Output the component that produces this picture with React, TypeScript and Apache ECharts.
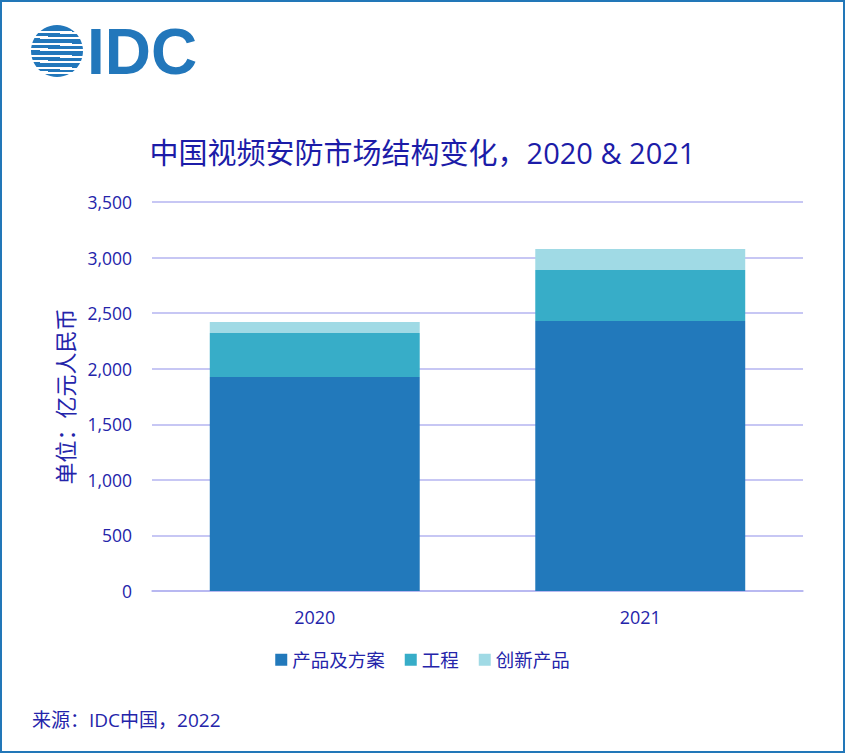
import React, { useEffect, useRef } from "react";
import * as echarts from "echarts";

const categories = ["2020", "2021"];
const seriesNames = ["产品及方案", "工程", "创新产品"];
const productValues = [1925, 2430];
const engineeringValues = [397, 459];
const innovationValues = [99, 189];
const seriesColors = ["#2279bb", "#37adc8", "#a0dae5"];
const titleText = "中国视频安防市场结构变化，2020 & 2021";
const yAxisName = "单位：亿元人民币";
const sourceText = "来源：IDC中国，2022";

const FONT = "'Open Sans', 'Noto Sans CJK SC', sans-serif";
const TXT = "#2424aa";
const LOGO = "#2277bb";

export default function App() {
  const ref = useRef<HTMLDivElement>(null);
  useEffect(() => {
    if (!ref.current) return;
    const chart = echarts.init(ref.current, null, { renderer: "svg" });
    const dataSets = [productValues, engineeringValues, innovationValues];
    const gaps = [31, 37, 43, 49, 55, 61, 67, 72];
    const logoGraphics: any[] = [
      { type: "circle", shape: { cx: 57, cy: 51, r: 26 }, style: { fill: LOGO } },
      ...gaps.map((y, i) => ({
        type: "rect",
        shape: { x: i % 2 === 0 ? 28 : 40, y, width: i % 2 === 0 ? 44 : 50, height: 2 },
        style: { fill: "#ffffff" },
      })),
      ...gaps.map((y, i) => ({
        type: "rect",
        shape: { x: i % 2 === 0 ? 60 : 28, y: y + (i % 2 === 0 ? 1 : -1), width: i % 2 === 0 ? 30 : 20, height: 2 },
        style: { fill: "#ffffff" },
      })),
      {
        type: "text",
        x: 87,
        y: 52,
        style: {
          text: "IDC",
          fill: LOGO,
          font: "bold 64px 'Liberation Sans', Arial, sans-serif",
          textVerticalAlign: "middle",
          textAlign: "left",
        },
      },
      {
        type: "rect",
        shape: { x: 1, y: 1, width: 843, height: 751 },
        style: { fill: "none", stroke: "#2277b8", lineWidth: 2 },
        silent: true,
      },
      {
        type: "text",
        x: 32,
        y: 720,
        style: {
          text: sourceText,
          fill: TXT,
          font: `19px ${FONT}`,
          textVerticalAlign: "middle",
        },
      },
    ];
    chart.setOption({
      animation: false,
      backgroundColor: "#ffffff",
      title: {
        text: titleText,
        left: "center",
        top: 133,
        textStyle: { color: "#1c1ca8", fontSize: 29, fontWeight: "normal", fontFamily: FONT },
      },
      legend: {
        data: seriesNames,
        bottom: 79,
        left: "center",
        itemWidth: 12,
        itemHeight: 12,
        itemGap: 20,
        icon: "rect",
        textStyle: { color: TXT, fontSize: 18.5, fontFamily: FONT },
      },
      grid: { left: 152, right: 42, top: 202, bottom: 162 },
      xAxis: {
        type: "category",
        data: categories,
        axisLine: { lineStyle: { color: "#b4b4f0", width: 1.5 } },
        axisTick: { show: false },
        axisLabel: { color: TXT, fontSize: 18, fontFamily: FONT, margin: 17 },
      },
      yAxis: {
        type: "value",
        min: 0,
        max: 3500,
        interval: 500,
        name: yAxisName,
        nameLocation: "middle",
        nameGap: 76,
        nameRotate: 90,
        nameTextStyle: { color: TXT, fontSize: 22, fontFamily: FONT },
        axisLine: { show: false },
        axisTick: { show: false },
        splitLine: { lineStyle: { color: "#b4b4f0", width: 1.5 } },
        axisLabel: {
          color: TXT,
          fontSize: 17.5,
          fontFamily: FONT,
          margin: 20,
          formatter: (v: number) => v.toLocaleString("en-US"),
        },
      },
      series: seriesNames.map((name, i) => ({
        name,
        type: "bar",
        stack: "total",
        barWidth: "64.5%",
        data: dataSets[i],
        itemStyle: { color: seriesColors[i] },
      })),
      graphic: logoGraphics,
    });
    return () => chart.dispose();
  }, []);
  return (
    <div
      ref={ref}
      style={{ position: "absolute", left: 0, top: 0, width: 845, height: 753 }}
    />
  );
}
